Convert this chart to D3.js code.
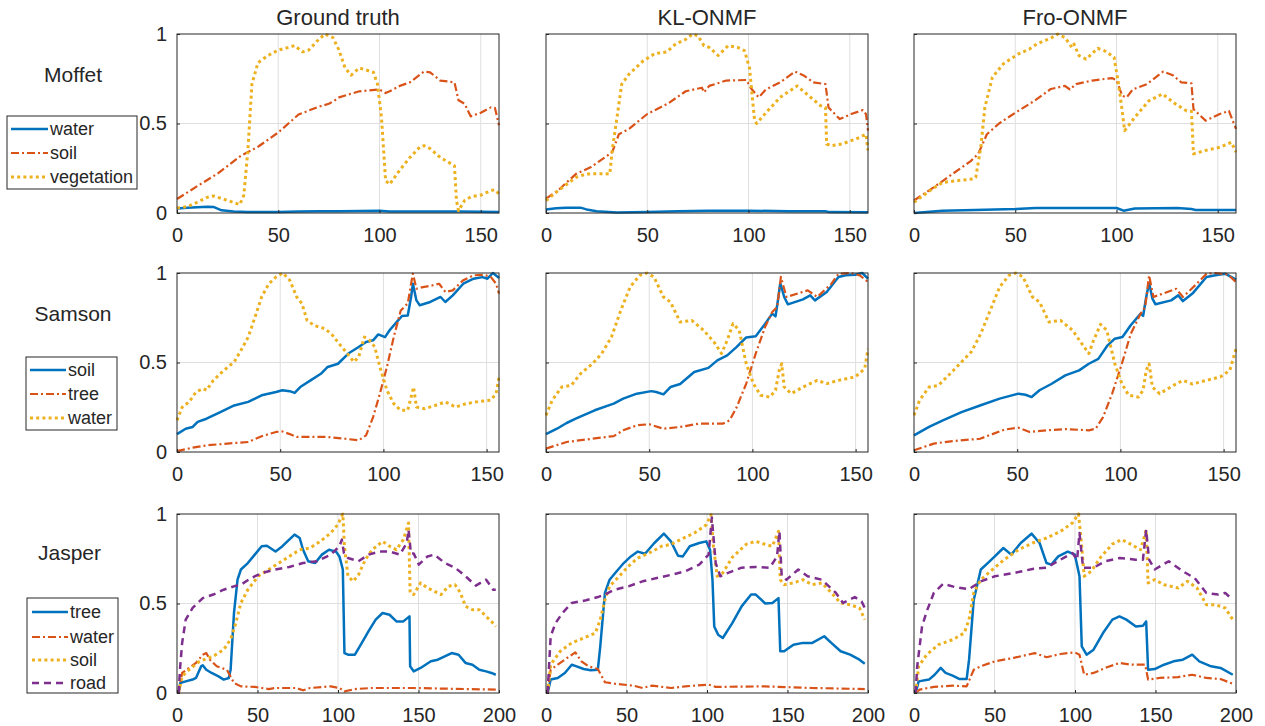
<!DOCTYPE html>
<html><head><meta charset="utf-8">
<script src="https://cdn.jsdelivr.net/npm/d3@7"></script>
<style>
body{margin:0;background:#fff}
text{font-family:"Liberation Sans",Arial,Helvetica,sans-serif;fill:#262626}
</style>
</head><body>
<svg id="chart" width="1265" height="726"></svg>
<script>
// ---------- categories / labels ----------
const methods = ["Ground truth", "KL-ONMF", "Fro-ONMF"];
const datasets = ["Moffet", "Samson", "Jasper"];
const moffetLabels = ["water", "soil", "vegetation"];
const samsonLabels = ["soil", "tree", "water"];
const jasperLabels = ["tree", "water", "soil", "road"];
const xMaxes = [159, 156, 200];
const xTicks = [[0, 50, 100, 150], [0, 50, 100, 150], [0, 50, 100, 150, 200]];
const yTicks = [0, 0.5, 1];

// ---------- Moffet ----------
const mGT_water = [[0,.025],[5,.03],[10,.032],[15,.035],[18,.034],[22,.015],[28,.008],[35,.005],[50,.006],[60,.008],[70,.01],[80,.01],[90,.011],[100,.013],[105,.009],[120,.008],[140,.008],[150,.007],[159,.006]];
const mGT_soil = [[0,.078],[10,.15],[20,.22],[31.6,.32],[40,.37],[50,.45],[60,.55],[70,.594],[75,.61],[78,.63],[80,.646],[90,.68],[100,.69],[103,.67],[105,.68],[110,.71],[115,.73],[122,.79],[125,.786],[130,.74],[137,.73],[139,.63],[142,.61],[145,.54],[150,.56],[155,.59],[157,.587],[159,.49]];
const mGT_veg = [[0,.028],[5,.035],[10,.06],[15,.088],[18,.095],[25,.07],[31,.047],[33,.1],[35,.35],[37,.72],[40,.84],[45,.88],[50,.91],[55,.925],[58,.935],[62,.9],[65,.91],[70,.97],[73,1],[77,.98],[80,.91],[83,.81],[86,.77],[90,.81],[93,.8],[97,.786],[99,.72],[101,.53],[103,.18],[105,.16],[110,.24],[115,.31],[120,.37],[122,.376],[125,.36],[130,.31],[137,.264],[138,.07],[139,.013],[142,.07],[145,.09],[150,.1],[155,.125],[157,.13],[159,.106]];

const mKL_water = [[0,.02],[5,.027],[10,.03],[17,.03],[20,.02],[25,.01],[35,.003],[50,.005],[65,.01],[80,.012],[100,.013],[120,.01],[138,.01],[140,.005],[159,.004]];
const mKL_soil = [[0,.08],[5.8,.125],[15,.22],[22,.255],[29,.31],[32.7,.34],[36,.44],[41,.47],[50,.553],[60,.61],[69,.68],[77,.70],[78,.674],[80.6,.71],[89,.74],[99,.743],[101,.70],[105,.646],[108.6,.69],[115.6,.73],[123,.79],[127,.77],[132,.73],[138,.72],[139.5,.59],[145,.525],[150.7,.553],[156.5,.575],[158,.553],[159,.46]];
const mKL_veg = [[0,.069],[6,.125],[15,.2],[20,.218],[29,.22],[31.5,.218],[32.7,.35],[35,.53],[37.4,.72],[41,.776],[48,.85],[53.7,.89],[59.6,.9],[64,.944],[69,.97],[72.4,1],[75,.99],[78,.935],[80.6,.925],[85,.88],[90,.935],[94.6,.925],[98,.907],[100.5,.81],[103,.516],[104,.5],[108.6,.56],[115.6,.646],[124,.71],[129.7,.655],[135.5,.6],[138,.59],[138.6,.385],[141,.376],[146,.385],[153,.413],[158,.44],[159,.35]];

const mFro_water = [[0,0],[14,.013],[30,.017],[50,.022],[60,.028],[100,.028],[103.5,.013],[109,.025],[130,.028],[137,.022],[139,.017],[159,.017]];
const mFro_soil = [[0,.07],[9.7,.143],[19,.218],[28,.29],[31.7,.33],[36,.44],[42,.5],[50,.56],[59.5,.627],[67.6,.693],[74.5,.71],[77,.69],[80,.72],[88,.74],[97.7,.754],[100,.743],[102.8,.655],[105,.646],[108,.69],[115,.72],[123,.79],[127.8,.77],[132,.73],[137,.724],[138,.58],[144,.516],[151,.553],[155.5,.57],[159,.47]];
const mFro_veg = [[0,.06],[9.7,.14],[14,.17],[21,.18],[29,.19],[30.5,.2],[33,.367],[35,.59],[38.7,.758],[44,.832],[51.4,.888],[57,.916],[60.6,.944],[67.6,.977],[71,1],[74.5,.98],[78,.925],[79,.944],[81.5,.879],[85,.86],[90.7,.92],[94,.907],[98.8,.87],[101,.72],[102.8,.57],[104,.46],[109,.534],[116,.627],[122.7,.665],[129,.61],[134.7,.57],[137,.568],[138,.33],[144,.35],[151,.367],[156.7,.395],[159,.34]];

// ---------- Samson ----------
const sGT_soil = [[0,.10],[4.2,.13],[7.6,.14],[10,.168],[14.3,.186],[21,.223],[27.7,.26],[34.5,.28],[41,.317],[48,.335],[51,.345],[54.6,.34],[57,.33],[59.7,.363],[64.7,.40],[69.7,.437],[73,.475],[78,.493],[83,.55],[88,.587],[91.6,.615],[95,.624],[97.5,.657],[100.8,.642],[103,.68],[106.7,.73],[109,.76],[111.8,.763],[113.4,.866],[114.3,.94],[116,.847],[117.6,.82],[122.7,.838],[127.7,.866],[130,.838],[133.6,.875],[138.7,.94],[143.7,.968],[148,.977],[150.4,.968],[153,1],[155.5,.978],[156,.972]];
const sGT_tree = [[0,.005],[7.6,.024],[14.3,.037],[24.4,.047],[34.5,.056],[41,.088],[48,.112],[51,.115],[54.6,.10],[58,.084],[64.7,.084],[73,.084],[81.5,.074],[88,.065],[91.6,.093],[95,.195],[98.3,.326],[101.7,.475],[105,.642],[108.4,.79],[111.8,.83],[113.4,.94],[114.3,.996],[116,.912],[118.5,.92],[123.5,.93],[127,.94],[130,.894],[133.6,.903],[138.7,.96],[143.7,.987],[148.7,.99],[152,.978],[154.6,.94],[156,.885]];
const sGT_water = [[0,.177],[2.5,.25],[5.9,.28],[9.2,.335],[12.6,.354],[14.3,.345],[17.6,.40],[22.7,.456],[27.7,.503],[31,.568],[34.5,.642],[37.8,.754],[41,.866],[44.5,.94],[48,.978],[51.3,1],[54.6,.96],[58,.866],[60.5,.83],[63,.736],[66.4,.707],[71.4,.69],[74.8,.66],[79.8,.587],[83.2,.54],[85.7,.503],[88,.53],[90.8,.642],[93.3,.624],[95.8,.587],[98.3,.475],[101.7,.345],[105,.27],[108.4,.233],[111.8,.233],[113.4,.307],[114.6,.363],[116,.251],[120,.242],[125,.26],[130,.28],[135,.251],[140,.27],[145,.28],[152,.29],[154.6,.326],[156,.42]];

const sKL_soil = [[0,.10],[5.3,.13],[10,.162],[14.4,.186],[23.6,.233],[32.8,.27],[37.4,.298],[44,.326],[51,.34],[53.4,.335],[56.9,.322],[60.3,.363],[65,.38],[71.8,.447],[78.7,.47],[83,.512],[87.8,.54],[92.4,.587],[97,.64],[101.6,.646],[106.2,.717],[109.6,.773],[111.2,.758],[112.6,.866],[113.5,.944],[115.4,.866],[117.2,.825],[124.5,.853],[128,.875],[130.3,.847],[136,.894],[141.7,.978],[145.2,.987],[149.8,.99],[153.2,1],[156,.968]];
const sKL_tree = [[0,.019],[10,.056],[19,.069],[32.8,.089],[37.4,.121],[44,.149],[50,.155],[56.9,.13],[65,.14],[74,.158],[85.6,.158],[89,.177],[92.4,.251],[97,.382],[101.6,.55],[106.2,.70],[109.6,.782],[112,.81],[113.8,.978],[116.5,.866],[126.8,.903],[131.4,.866],[138.3,.94],[141.7,.996],[147.5,1],[152,.987],[156,.95]];
const sKL_water = [[0,.205],[3,.289],[7.6,.363],[12.2,.372],[16.7,.437],[22.5,.493],[27,.55],[31.7,.642],[36.2,.79],[40.8,.922],[45.4,.987],[48.9,1],[52.3,.978],[56.9,.866],[60.3,.838],[65,.726],[70.6,.735],[76.4,.68],[82,.605],[85,.55],[87.8,.624],[90.6,.717],[93.6,.68],[97,.493],[100.5,.382],[103.9,.317],[108.5,.307],[111.2,.345],[113,.456],[114.2,.493],[115.4,.363],[118.8,.326],[124.5,.363],[131.4,.40],[136,.382],[141.7,.40],[149.8,.42],[154.4,.465],[156,.577]];

const sFro_soil = [[0,.093],[7.3,.14],[14,.177],[23,.223],[32,.26],[41.5,.298],[50.6,.326],[54,.32],[57,.307],[60.8,.345],[66.5,.38],[73.3,.428],[80,.456],[84.7,.493],[89.3,.52],[93.8,.596],[97.3,.633],[101,.642],[105,.708],[109.8,.773],[111,.76],[112.5,.866],[113.9,.944],[115.5,.857],[117,.825],[124.6,.847],[128,.875],[130.3,.843],[134.9,.885],[141.7,.978],[146,.987],[150.8,.996],[156,.963]];
const sFro_tree = [[0,.01],[9.6,.047],[18.7,.061],[32,.074],[38,.10],[43.7,.125],[50.6,.136],[56,.112],[64,.121],[73.3,.128],[84.7,.121],[88,.13],[91.6,.195],[96,.326],[100.7,.493],[105,.66],[109.8,.773],[112,.81],[113.9,.987],[116,.866],[127,.912],[130.3,.866],[137,.94],[141.7,.996],[146,1],[152,.992],[156,.95]];
const sFro_water = [[0,.205],[2.7,.289],[7.3,.363],[11.8,.372],[17.5,.437],[23,.503],[27.8,.56],[32.3,.66],[36.9,.79],[41.5,.922],[46,.987],[49.4,1],[52.8,.978],[57.4,.866],[60.8,.838],[65.4,.726],[71,.735],[76.8,.68],[81.3,.605],[84.7,.55],[87,.624],[90.4,.713],[93.4,.68],[97.3,.493],[100.7,.382],[104,.317],[108.7,.307],[111,.345],[112.5,.456],[113.9,.493],[115.5,.363],[119,.326],[125.7,.372],[130.3,.40],[134.9,.38],[141.7,.40],[148.5,.42],[153,.456],[156,.577]];

// ---------- Jasper ----------
const jGT_tree = [[1,0],[2,.056],[5.4,.065],[9.7,.075],[11.8,.084],[15,.149],[16,.155],[18.2,.13],[21.5,.112],[25.8,.093],[29,.075],[32.2,.084],[33.3,.13],[35.4,.447],[37.6,.633],[39.7,.69],[44,.726],[48.3,.773],[52.6,.82],[55.8,.823],[61.2,.79],[65.5,.82],[69.7,.857],[73,.885],[76.2,.866],[78.3,.80],[81.5,.736],[85.8,.726],[90,.773],[94.4,.80],[98.7,.79],[100.9,.763],[103,.69],[104,.223],[106.2,.214],[110.5,.214],[114.8,.28],[119,.345],[123.4,.41],[127.7,.447],[132,.437],[136.3,.40],[140.6,.40],[144.4,.428],[144.8,.149],[147,.121],[151.3,.14],[157.7,.177],[162,.186],[166.3,.205],[170.6,.223],[174.9,.214],[179.2,.168],[183.5,.158],[187.8,.13],[192,.121],[195.3,.112],[198,.102]];
const jGT_water = [[1,0],[3.2,.112],[7.5,.14],[11.8,.168],[16,.214],[18.2,.223],[20.4,.186],[24.7,.149],[31,.13],[35.4,.056],[39.7,.037],[48.3,.034],[57,.022],[61,.028],[74,.028],[78.3,.015],[82.6,.028],[95.5,.037],[100.9,.028],[104,.009],[110.5,.022],[121,.028],[147,.028],[168,.024],[198,.019]];
const jGT_soil = [[1,0],[3.2,.093],[7.5,.13],[14,.177],[22.5,.205],[29,.242],[33.3,.30],[36.5,.39],[39.7,.503],[44,.577],[50.4,.652],[57,.69],[63.3,.726],[69.7,.763],[76.2,.80],[82.6,.81],[89,.847],[95.5,.894],[99.8,.94],[103,1],[104,.82],[106.2,.652],[109.4,.624],[112.7,.66],[117,.745],[121.2,.80],[127.7,.847],[132,.82],[136.3,.80],[140.6,.857],[143.8,.95],[144.8,.56],[147,.55],[151.3,.615],[155.6,.587],[159.9,.568],[164,.55],[168.5,.596],[172.7,.605],[176,.56],[179.2,.484],[183.5,.465],[187.8,.465],[192,.428],[195.3,.40],[198,.372]];
const jGT_road = [[1,0],[2,.149],[3.2,.28],[5.4,.41],[9.7,.475],[16,.53],[22.5,.55],[29,.577],[35.4,.596],[39.7,.605],[46,.642],[52.6,.67],[61.2,.69],[69.7,.704],[78.3,.726],[86.9,.736],[95.5,.773],[100.9,.82],[102.4,.857],[103.7,.78],[106.2,.754],[112.7,.736],[119,.773],[125.5,.79],[132,.79],[138.4,.773],[142.7,.838],[143.8,.912],[145.3,.78],[147,.78],[150.2,.717],[155.6,.763],[159.9,.773],[166.3,.726],[172.7,.70],[179.2,.652],[185.6,.60],[192,.633],[196.4,.577],[198,.577]];

const jKL_tree = [[1,0],[2.9,.075],[7.3,.084],[11.7,.112],[16,.158],[19,.149],[23.4,.134],[27.8,.127],[32.2,.13],[33.7,.26],[36.6,.559],[39.5,.633],[43.9,.68],[48.3,.726],[52.7,.763],[57,.79],[61.5,.778],[67.3,.838],[73.2,.89],[77.6,.847],[82,.767],[85,.763],[89.3,.82],[95.2,.838],[99.6,.847],[101.9,.80],[103.4,.633],[104.5,.372],[106.9,.326],[109.8,.307],[115.7,.39],[121.5,.484],[127.4,.55],[130.3,.55],[136.2,.50],[140.6,.503],[144.4,.53],[145.5,.233],[147.9,.233],[153.7,.27],[159.6,.28],[165.4,.28],[172.8,.317],[177.2,.28],[183,.233],[188.9,.214],[194.7,.186],[198,.164]];
const jKL_water = [[1,0],[2.9,.13],[7.3,.158],[13.2,.196],[18.2,.227],[22,.177],[26.4,.149],[32.2,.134],[36.6,.06],[42.5,.052],[54.2,.041],[60,.028],[65.9,.041],[77.6,.028],[86.4,.037],[101,.047],[105.4,.034],[136,.037],[165,.028],[198,.022]];
const jKL_soil = [[1,0],[2.9,.158],[8.8,.233],[16,.28],[23.4,.307],[30.7,.335],[33.7,.41],[36.6,.52],[39.5,.596],[45.4,.652],[51.2,.708],[57,.754],[65.9,.79],[71.7,.82],[77.6,.83],[83.5,.857],[92.2,.894],[99.6,.94],[102.5,.996],[104,.82],[106.3,.652],[109.8,.67],[115.7,.758],[124.5,.832],[130.3,.847],[136.2,.83],[140.6,.82],[144.4,.903],[145.5,.633],[147.9,.605],[153.7,.615],[159.6,.633],[165.4,.605],[171.3,.615],[177.2,.56],[183,.503],[188.9,.493],[194.7,.475],[198,.41]];
const jKL_road = [[1,0],[2.9,.317],[5.9,.39],[10.2,.447],[16,.503],[24.9,.518],[32.2,.536],[36.6,.55],[42.5,.577],[51.2,.596],[60,.624],[68.8,.642],[77.6,.66],[86.4,.68],[95.2,.717],[101,.773],[103,.98],[105.4,.726],[108.3,.652],[112.7,.67],[121.5,.70],[130.3,.704],[139,.70],[143.5,.763],[145,.903],[146.4,.652],[149.3,.633],[156.7,.69],[162.5,.652],[171.3,.633],[180,.56],[184.5,.503],[191.8,.536],[196,.512],[198,.475]];

const jFro_tree = [[1,0],[2.9,.065],[9.3,.075],[12.8,.102],[16.6,.14],[19.6,.112],[24,.097],[28.3,.078],[32.7,.078],[34.2,.186],[37.1,.52],[41.5,.69],[45.8,.726],[50.2,.763],[55.5,.81],[60.4,.773],[66.3,.838],[73,.89],[78,.838],[82.3,.726],[85.3,.717],[89.6,.763],[95.5,.79],[99.9,.773],[102.8,.652],[104.2,.26],[107.2,.214],[111.5,.242],[117.4,.335],[123.2,.41],[127.6,.428],[131.9,.41],[137.8,.372],[142.2,.376],[144.2,.40],[145.4,.13],[149.5,.134],[155.3,.158],[161.2,.177],[167,.186],[172.8,.214],[177.2,.177],[184.5,.149],[190.4,.14],[198,.102]];
const jFro_water = [[1,0],[3.5,.019],[12.3,.034],[24,.041],[32.7,.037],[37.1,.13],[41.5,.149],[50.2,.177],[61.9,.196],[70.7,.214],[75,.223],[82.3,.20],[91,.218],[99.9,.227],[102.8,.214],[105.7,.102],[111.5,.112],[120.3,.145],[127.6,.168],[134.9,.158],[143.6,.158],[145.4,.075],[152.4,.084],[164,.089],[172.8,.102],[181.6,.084],[190.4,.078],[198,.052]];
const jFro_soil = [[1,0],[2.9,.149],[7.9,.214],[15.2,.27],[24,.298],[31.2,.335],[34.2,.41],[37.1,.559],[41.5,.633],[48.8,.69],[56,.745],[64.8,.80],[73.6,.838],[82.3,.866],[91,.903],[98.4,.95],[102.2,1],[104.2,.82],[105.7,.652],[110,.68],[115.9,.758],[123.2,.832],[129,.857],[134.9,.83],[140.7,.80],[144.2,.912],[145.4,.615],[149.5,.633],[155.3,.605],[164,.587],[169.9,.624],[175.8,.587],[181.6,.493],[187.4,.493],[193.3,.475],[198,.41]];
const jFro_road = [[1,0],[2,.149],[5,.372],[7.9,.456],[12.3,.559],[18.1,.61],[25.4,.592],[34.2,.58],[41.5,.624],[50.2,.652],[61.9,.67],[73.6,.693],[82.3,.70],[91,.745],[98.4,.782],[101.3,.745],[102.8,.894],[105,.70],[111.5,.70],[118.8,.736],[127.6,.754],[137.8,.745],[142.2,.745],[144.2,.912],[146,.745],[149.5,.69],[158.2,.736],[167,.68],[174.3,.642],[181.6,.559],[189,.55],[193.3,.559],[198,.52]];

// ---------- assembly ----------
const panelSeries = [
  [[mGT_water, mGT_soil, mGT_veg], [mKL_water, mKL_soil, mKL_veg], [mFro_water, mFro_soil, mFro_veg]],
  [[sGT_soil, sGT_tree, sGT_water], [sKL_soil, sKL_tree, sKL_water], [sFro_soil, sFro_tree, sFro_water]],
  [[jGT_tree, jGT_water, jGT_soil, jGT_road], [jKL_tree, jKL_water, jKL_soil, jKL_road], [jFro_tree, jFro_water, jFro_soil, jFro_road]]
];
const legendLabels = [moffetLabels, samsonLabels, jasperLabels];

// ---------- styling / layout ----------
const lineStyles = [
  {color: "#0072BD", dash: null, width: 2.5},
  {color: "#D95319", dash: "8,3,2,3", width: 2.2},
  {color: "#EDB120", dash: "3,3.2", width: 3},
  {color: "#7E2F8E", dash: "7,5", width: 2.5}
];
const colLeft = [177, 546, 914];
const plotW = 322;
const rowTop = [34, 273, 514];
const plotH = 179;
const rowLabelPos = [[73, 82], [73, 321], [69.5, 560]];
const legendBoxes = [
  {x: 7, y: 116, w: 130, h: 73, l1: 11, l2: 48, tx: 50, ys: [129, 153, 177]},
  {x: 26, y: 357, w: 91, h: 73, l1: 30, l2: 66, tx: 68, ys: [370, 394, 418]},
  {x: 27, y: 598, w: 91, h: 95, l1: 32, l2: 68, tx: 70, ys: [612, 637, 660, 683]}
];

const svg = d3.select("#chart");
const defs = svg.append("defs");

// Titles
methods.forEach((m, c) => {
  svg.append("text").attr("x", colLeft[c] + plotW / 2).attr("y", 25)
    .attr("text-anchor", "middle").style("font-size", "22px").text(m);
});

// Row labels
datasets.forEach((d, r) => {
  svg.append("text").attr("x", rowLabelPos[r][0]).attr("y", rowLabelPos[r][1])
    .attr("text-anchor", "middle").style("font-size", "21px").text(d);
});

for (let r = 0; r < 3; r++) {
  for (let c = 0; c < 3; c++) {
    const x = d3.scaleLinear().domain([0, xMaxes[r]]).range([0, plotW]);
    const y = d3.scaleLinear().domain([0, 1]).range([plotH, 0]);
    const g = svg.append("g").attr("transform", `translate(${colLeft[c]},${rowTop[r]})`);

    // grid
    g.append("g").selectAll("line").data(xTicks[r].filter(t => t > 0 && t < xMaxes[r])).join("line")
      .attr("x1", d => x(d)).attr("x2", d => x(d)).attr("y1", 0).attr("y2", plotH)
      .attr("stroke", "#dfdfdf").attr("stroke-width", 1);
    g.append("g").selectAll("line").data(yTicks.filter(t => t > 0 && t < 1)).join("line")
      .attr("x1", 0).attr("x2", plotW).attr("y1", d => y(d)).attr("y2", d => y(d))
      .attr("stroke", "#dfdfdf").attr("stroke-width", 1);

    // clip
    const cid = `clip${r}${c}`;
    defs.append("clipPath").attr("id", cid).append("rect")
      .attr("x", -1).attr("y", -3).attr("width", plotW + 2).attr("height", plotH + 6);

    const line = d3.line().x(d => x(d[0])).y(d => y(d[1]));
    const lg = g.append("g").attr("clip-path", `url(#${cid})`);
    panelSeries[r][c].forEach((s, i) => {
      const st = lineStyles[i];
      lg.append("path").datum(s).attr("d", line)
        .attr("fill", "none").attr("stroke", st.color).attr("stroke-width", st.width)
        .attr("stroke-linejoin", "round")
        .attr("stroke-dasharray", st.dash);
    });

    // box
    g.append("rect").attr("x", 0).attr("y", 0).attr("width", plotW).attr("height", plotH)
      .attr("fill", "none").attr("stroke", "#262626").attr("stroke-width", 1);

    // axes
    const xa = d3.axisBottom(x).tickValues(xTicks[r]).tickSizeInner(-3).tickSizeOuter(0).tickPadding(15)
      .tickFormat(d3.format("d"));
    const xg = g.append("g").attr("transform", `translate(0,${plotH})`).call(xa);
    xg.select(".domain").remove();
    xg.selectAll("line").attr("stroke", "#262626");
    xg.selectAll("text").style("font-size", "20px").attr("fill", "#262626")
      .style("font-family", '"Liberation Sans",Arial,sans-serif');

    const ya = d3.axisLeft(y).tickValues(yTicks).tickSizeInner(-3).tickSizeOuter(0).tickPadding(10)
      .tickFormat(c === 0 ? d3.format("") : () => "");
    const yg = g.append("g").call(ya);
    yg.select(".domain").remove();
    yg.selectAll("line").attr("stroke", "#262626");
    yg.selectAll("text").style("font-size", "20px").attr("fill", "#262626")
      .style("font-family", '"Liberation Sans",Arial,sans-serif');
  }
}

// Legends
legendBoxes.forEach((b, r) => {
  const lg = svg.append("g");
  lg.append("rect").attr("x", b.x).attr("y", b.y).attr("width", b.w).attr("height", b.h)
    .attr("fill", "#fff").attr("stroke", "#262626").attr("stroke-width", 1);
  legendLabels[r].forEach((lab, i) => {
    const st = lineStyles[i];
    lg.append("line").attr("x1", b.l1).attr("x2", b.l2).attr("y1", b.ys[i]).attr("y2", b.ys[i])
      .attr("stroke", st.color).attr("stroke-width", st.width).attr("stroke-dasharray", st.dash);
    lg.append("text").attr("x", b.tx).attr("y", b.ys[i]).attr("dy", "0.36em")
      .style("font-size", "18px").text(lab);
  });
});
</script>
</body></html>
